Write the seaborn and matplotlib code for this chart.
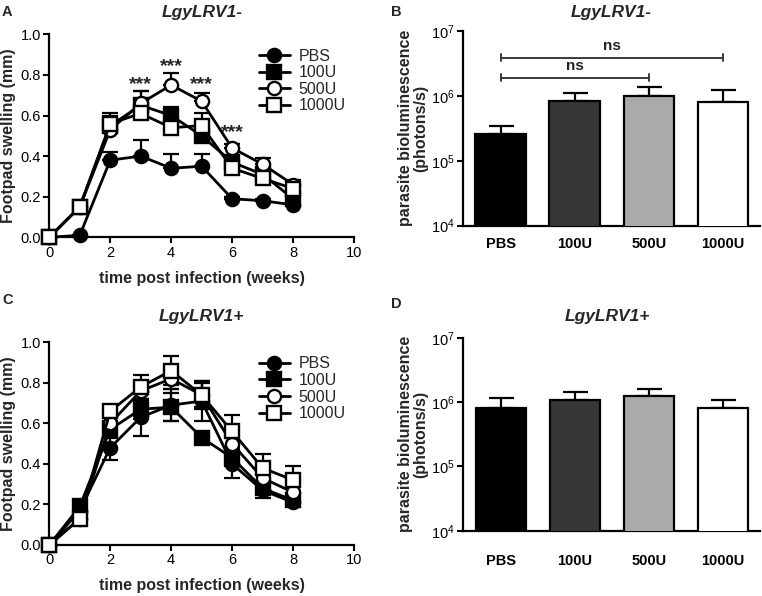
import numpy as np
import matplotlib
matplotlib.use('Agg')
import matplotlib.pyplot as plt
from matplotlib.lines import Line2D
from matplotlib.ticker import LogLocator, NullLocator, MultipleLocator
import seaborn as sns

sns.set_style('ticks')
plt.rcParams['font.family'] = ['Liberation Sans', 'DejaVu Sans']
plt.rcParams['mathtext.fontset'] = 'custom'
plt.rcParams['mathtext.rm'] = 'Liberation Sans'
plt.rcParams['mathtext.it'] = 'Liberation Sans:italic'
plt.rcParams['mathtext.bf'] = 'Liberation Sans:bold'

weeks = [0, 1, 2, 3, 4, 5, 6, 7, 8]
groups = ['PBS', '100U', '500U', '1000U']

# footpad swelling, LgyLRV1- (mean, upper SEM)
neg_pbs = [0.00, 0.01, 0.38, 0.40, 0.34, 0.35, 0.19, 0.18, 0.16]
neg_100 = [0.00, 0.15, 0.55, 0.65, 0.60, 0.50, 0.37, 0.31, 0.19]
neg_500 = [0.00, 0.15, 0.53, 0.66, 0.75, 0.67, 0.44, 0.36, 0.26]
neg_1000 = [0.00, 0.15, 0.56, 0.61, 0.54, 0.55, 0.34, 0.29, 0.24]
neg_pbs_err = [0.00, 0.00, 0.04, 0.08, 0.07, 0.06, 0.01, 0.01, 0.01]
neg_100_err = [0.00, 0.01, 0.05, 0.07, 0.04, 0.03, 0.02, 0.02, 0.03]
neg_500_err = [0.00, 0.01, 0.04, 0.06, 0.06, 0.04, 0.02, 0.03, 0.02]
neg_1000_err = [0.00, 0.01, 0.05, 0.04, 0.04, 0.06, 0.03, 0.03, 0.03]

# footpad swelling, LgyLRV1+
pos_pbs = [0.00, 0.17, 0.48, 0.63, 0.69, 0.71, 0.40, 0.27, 0.21]
pos_100 = [0.00, 0.19, 0.57, 0.67, 0.68, 0.53, 0.43, 0.28, 0.22]
pos_500 = [0.00, 0.13, 0.60, 0.76, 0.82, 0.74, 0.50, 0.33, 0.26]
pos_1000 = [0.00, 0.13, 0.66, 0.78, 0.86, 0.74, 0.56, 0.38, 0.32]
pos_pbs_err = [0.00, 0.01, 0.06, 0.09, 0.08, 0.10, 0.07, 0.04, 0.02]
pos_100_err = [0.00, 0.01, 0.04, 0.05, 0.07, 0.02, 0.04, 0.03, 0.02]
pos_500_err = [0.00, 0.01, 0.04, 0.05, 0.05, 0.06, 0.05, 0.04, 0.03]
pos_1000_err = [0.00, 0.01, 0.03, 0.06, 0.07, 0.07, 0.08, 0.07, 0.07]

# significance marks on panel A
star_weeks = [3, 4, 5, 6]
star_y = [0.75, 0.84, 0.75, 0.515]

# parasite bioluminescence (photons/s)
neg_lum = [2.55e5, 8.3e5, 1.0e6, 8.1e5]
neg_lum_err = [0.9e5, 2.9e5, 3.5e5, 4.2e5]
pos_lum = [8.0e5, 1.06e6, 1.22e6, 8.0e5]
pos_lum_err = [3.4e5, 3.7e5, 3.7e5, 2.7e5]

markers = ['o', 's', 'o', 's']
faces = ['black', 'black', 'white', 'white']
bar_colors = ['#000000', '#363636', '#aaaaaa', '#ffffff']

W, H = 762, 596
fig = plt.figure(figsize=(W / 100, H / 100), dpi=100)


def px_axes(x0, y0, x1, y1):
    return fig.add_axes([x0 / W, 1 - y1 / H, (x1 - x0) / W, (y1 - y0) / H])


def style_axes(ax):
    sns.despine(ax=ax)
    for s in ['left', 'bottom']:
        ax.spines[s].set_linewidth(1.6)
        ax.spines[s].set_color('black')
    ax.tick_params(width=1.5, length=4, labelsize=10.5, colors='black', pad=2)


def swelling_panel(ax, series, errors, upper_only):
    for name, vals, err, m, fc in zip(groups, series, errors, markers, faces):
        err = np.array(err)
        yerr = [np.zeros_like(err), err] if upper_only else err
        ax.errorbar(weeks, vals, yerr=yerr, fmt='none', ecolor='black',
                    elinewidth=1.6, capsize=5.5, capthick=1.6, clip_on=False, zorder=2)
        sns.lineplot(x=weeks, y=vals, ax=ax, color='black', lw=2.0, marker=m,
                     markersize=9.5, markerfacecolor=fc, markeredgecolor='black',
                     markeredgewidth=1.7, clip_on=False, zorder=3)
    ax.set_xlim(0, 10)
    ax.set_ylim(0, 1.0)
    ax.xaxis.set_major_locator(MultipleLocator(2))
    ax.yaxis.set_major_locator(MultipleLocator(0.2))
    ax.yaxis.set_major_formatter(plt.FormatStrFormatter('%.1f'))
    ax.set_xlabel('time post infection (weeks)', fontsize=11.5, fontweight='bold', labelpad=8)
    ax.set_ylabel('Footpad swelling (mm)', fontsize=11.5, fontweight='bold', labelpad=3)
    style_axes(ax)
    handles = [Line2D([], [], color='black', lw=2.0, marker=m, markersize=9.5,
                      markerfacecolor=fc, markeredgecolor='black', markeredgewidth=1.7)
               for m, fc in zip(markers, faces)]
    ax.legend(handles, groups, loc='upper left', bbox_to_anchor=(0.689, 0.93),
              frameon=False, fontsize=11.5, handlelength=1.9, handletextpad=0.55,
              labelspacing=0.1, borderpad=0, borderaxespad=0)


def lum_panel(ax, vals, errs, label_pad):
    sns.barplot(x=groups, y=vals, hue=groups, palette=bar_colors, legend=False,
                edgecolor='black', linewidth=1.6, width=0.68, ax=ax, zorder=3)
    ax.errorbar(range(len(groups)), vals, yerr=[np.zeros(len(errs)), errs],
                fmt='none', ecolor='black', elinewidth=1.6, capsize=9, capthick=1.6, zorder=2)
    ax.set_yscale('log')
    ax.set_ylim(1e4, 1e7)
    ax.set_xlim(-0.51, 3.5)
    ax.yaxis.set_major_locator(LogLocator(base=10, numticks=10))
    ax.yaxis.set_minor_locator(NullLocator())
    ax.set_ylabel('parasite bioluminescence\n(photons/s)', fontsize=11.5,
                  fontweight='bold', labelpad=2, linespacing=1.0)
    ax.set_xlabel('')
    style_axes(ax)
    ax.tick_params(axis='x', length=0, pad=label_pad, labelsize=10.5)
    for t in ax.get_xticklabels():
        t.set_fontweight('bold')


# A
axA = px_axes(49.3, 34.3, 354, 237.3)
swelling_panel(axA, [neg_pbs, neg_100, neg_500, neg_1000],
               [neg_pbs_err, neg_100_err, neg_500_err, neg_1000_err], True)
for wx, wy in zip(star_weeks, star_y):
    axA.text(wx, wy, '***', ha='center', va='center', fontsize=14, fontweight='bold')

# B
axB = px_axes(462.7, 31, 760, 225.7)
lum_panel(axB, neg_lum, neg_lum_err, 8)
for x2, yb in [(3, 3.9e6), (2, 1.9e6)]:
    axB.plot([0, x2], [yb, yb], color='#3a3a3a', lw=1.4)
    for xe in (0, x2):
        axB.plot([xe, xe], [yb / 1.13, yb * 1.13], color='#3a3a3a', lw=1.4)
    axB.text(x2 / 2, yb * 1.18, 'ns', ha='center', va='bottom', fontsize=11,
             fontweight='bold', color='#222222')

# C
axC = px_axes(49.3, 342.3, 354, 545)
swelling_panel(axC, [pos_pbs, pos_100, pos_500, pos_1000],
               [pos_pbs_err, pos_100_err, pos_500_err, pos_1000_err], False)

# D
axD = px_axes(463.3, 337.7, 760, 530.7)
lum_panel(axD, pos_lum, pos_lum_err, 17)

# titles and panel letters
for x, y, s in [(201.7, 13, 'LgyLRV1-'), (611, 13, 'LgyLRV1-'),
                (201.7, 317, 'LgyLRV1+'), (607, 316, 'LgyLRV1+')]:
    fig.text(x / W, 1 - y / H, s, ha='center', va='center', fontsize=12.5,
             fontweight='bold', fontstyle='italic')
for x, y, s in [(2, 12, 'A'), (391, 12, 'B'), (2, 300, 'C'), (391, 304, 'D')]:
    fig.text(x / W, 1 - y / H, s, ha='left', va='center', fontsize=10.5, fontweight='bold')

fig.savefig('out.png', dpi=100)
